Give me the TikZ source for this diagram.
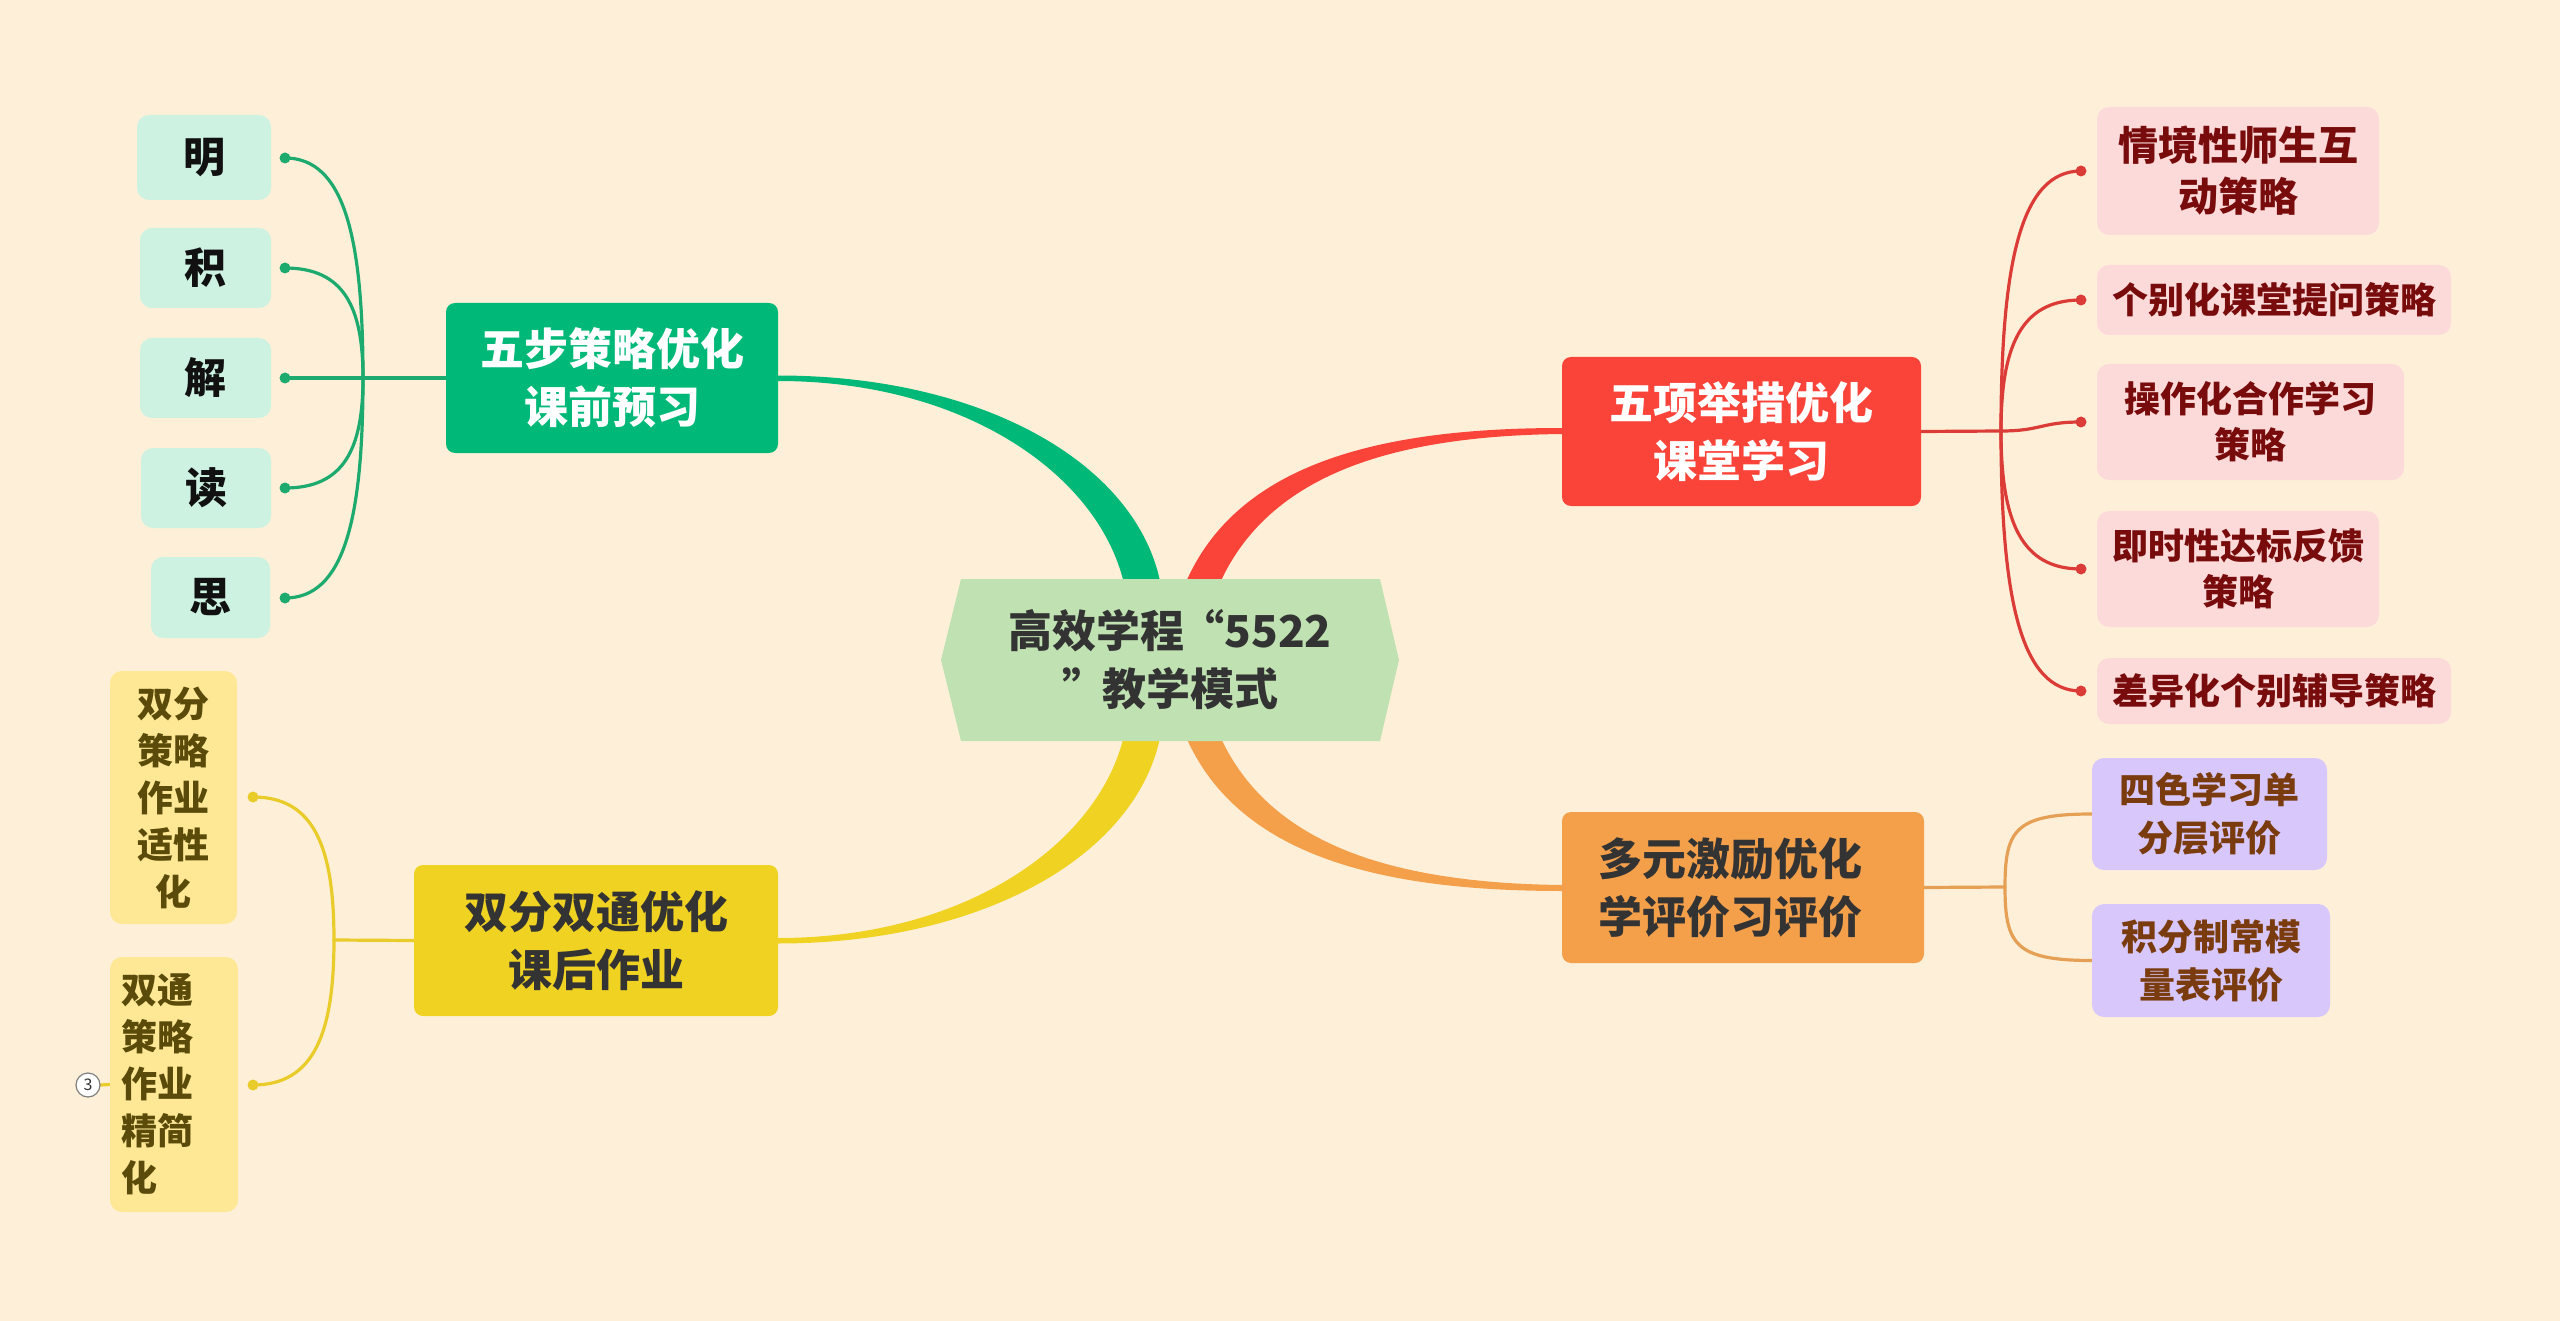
\documentclass[tikz,border=0pt]{standalone}
\usepackage{fontspec}
\setmainfont{Noto Sans CJK SC}
\pgfdeclarelayer{bgl}
\pgfdeclarelayer{conn}
\pgfdeclarelayer{hexl}
\pgfsetlayers{bgl,conn,hexl,main}
\definecolor{bgc}{HTML}{FEF0D8}
\definecolor{cfill}{HTML}{C0E2B2}
\definecolor{dark}{HTML}{333333}
\definecolor{gmain}{HTML}{00B877}
\definecolor{glinec}{HTML}{1DAA6E}
\definecolor{rmain}{HTML}{FA443A}
\definecolor{rlinec}{HTML}{DC3C37}
\definecolor{ymain}{HTML}{F0D223}
\definecolor{ylinec}{HTML}{E9CB2A}
\definecolor{omain}{HTML}{F4A04B}
\definecolor{olinec}{HTML}{E6A055}
\definecolor{gleaffill}{HTML}{CDF2E1}
\definecolor{gleaftext}{HTML}{111111}
\definecolor{rleaffill}{HTML}{FDDADA}
\definecolor{rleaftext}{HTML}{780C0C}
\definecolor{pleaffill}{HTML}{D8C7FA}
\definecolor{pleaftext}{HTML}{7A3C0F}
\definecolor{yleaffill}{HTML}{FEE896}
\definecolor{yleaftext}{HTML}{5A4B0A}
\begin{document}
\begin{tikzpicture}[x=1pt,y=-1pt,
  mainbox/.style={rectangle,rounded corners=9pt,inner sep=0pt,align=center,font=\bfseries\fontsize{44pt}{58pt}\selectfont},
  leafbox/.style={rectangle,rounded corners=12pt,inner sep=0pt,align=center},
  gleaf/.style={leafbox,fill=gleaffill,text=gleaftext,font=\bfseries\fontsize{42pt}{50pt}\selectfont},
  rleaf/.style={leafbox,fill=rleaffill,text=rleaftext,font=\bfseries\fontsize{36pt}{46pt}\selectfont},
  pleaf/.style={leafbox,fill=pleaffill,text=pleaftext,font=\bfseries\fontsize{36pt}{48pt}\selectfont},
  yleaf/.style={leafbox,fill=yleaffill,text=yleaftext,font=\bfseries\fontsize{36pt}{47pt}\selectfont},
  gline/.style={draw=glinec,line width=3.2pt,line cap=round},
  rline/.style={draw=rlinec,line width=3.2pt,line cap=round},
  yline/.style={draw=ylinec,line width=3.2pt,line cap=round},
  oline/.style={draw=olinec,line width=3.2pt,line cap=round},
  dotg/.style={fill=glinec},
  dotr/.style={fill=rlinec},
  doty/.style={fill=ylinec}]
\useasboundingbox (0,0) rectangle (2560,1321);
\begin{pgfonlayer}{bgl}
\fill[bgc] (0,0) rectangle (2560,1321);
\end{pgfonlayer}

% ---------- centre ----------
\begin{pgfonlayer}{hexl}
\fill[cfill] (941,660) -- (961,579) -- (1380,579) -- (1399,660) -- (1380,741) -- (961,741) -- cycle;
\end{pgfonlayer}
\node[font=\bfseries\fontsize{44pt}{58pt}\selectfont,text=dark,align=center,inner sep=0pt] (c) at (1170,660)
  {高效学程\makebox[40pt][r]{“}5522\\\makebox[40pt][l]{”}教学模式};

% ---------- main topics ----------
\node[mainbox,fill=gmain,text=white,minimum width=332pt,minimum height=150pt] (g) at (612,378) {五步策略优化\\课前预习};
\node[mainbox,fill=rmain,text=white,minimum width=359pt,minimum height=149pt] (r) at (1741.5,431.5) {五项举措优化\\课堂学习};
\node[mainbox,fill=ymain,text=dark,minimum width=364pt,minimum height=151pt] (yb) at (596,940.5) {双分双通优化\\课后作业};
\node[mainbox,fill=omain,text=dark,minimum width=362pt,minimum height=151pt,text width=290pt,align=left] (o) at (1743,887.5) {多元激励优化\\学评价习评价};

% ---------- green leaves ----------
\node[gleaf,minimum width=134pt,minimum height=85pt] (g1) at (204,157.5) {明};
\node[gleaf,minimum width=131pt,minimum height=80pt] (g2) at (205.5,268) {积};
\node[gleaf,minimum width=131pt,minimum height=80pt] (g3) at (205.5,378) {解};
\node[gleaf,minimum width=130pt,minimum height=80pt] (g4) at (206,488) {读};
\node[gleaf,minimum width=119pt,minimum height=81pt] (g5) at (210.5,597.5) {思};

% ---------- red leaves ----------
\node[rleaf,font=\bfseries\fontsize{40pt}{51pt}\selectfont,minimum width=282pt,minimum height=128pt] (r1) at (2238,171) {情境性师生互\\动策略};
\node[rleaf,minimum width=354pt,minimum height=70pt] (r2) at (2274,300) {个别化课堂提问策略};
\node[rleaf,minimum width=307pt,minimum height=116pt] (r3) at (2250.5,422) {操作化合作学习\\策略};
\node[rleaf,minimum width=282pt,minimum height=116pt] (r4) at (2238,569) {即时性达标反馈\\策略};
\node[rleaf,minimum width=354pt,minimum height=66pt] (r5) at (2274,691) {差异化个别辅导策略};

% ---------- yellow leaves ----------
\node[yleaf,minimum width=127pt,minimum height=253pt] (y1) at (173.5,797.5) {双分\\策略\\作业\\适性\\化};
\node[yleaf,minimum width=128pt,minimum height=255pt,text width=106pt,align=left] (y2) at (174,1084.5) {双通\\策略\\作业\\精简\\化};
\node[circle,draw=gray,line width=1.2pt,fill=white,minimum size=24pt,inner sep=0pt,text=dark,font=\fontsize{16pt}{16pt}\selectfont] (n3) at (88,1085) {3};

% ---------- purple leaves ----------
\node[pleaf,minimum width=235pt,minimum height=112pt] (p1) at (2209.5,814) {四色学习单\\分层评价};
\node[pleaf,minimum width=238pt,minimum height=113pt] (p2) at (2211,960.5) {积分制常模\\量表评价};

% ---------- junctions and dots ----------
\coordinate (gj) at (363,378);
\coordinate (gd1) at (285,158);
\coordinate (gd2) at (285,268);
\coordinate (gd3) at (285,378);
\coordinate (gd4) at (285,488);
\coordinate (gd5) at (285,598);
\coordinate (rj) at (2001,431);
\coordinate (rd1) at (2081,171);
\coordinate (rd2) at (2081,300);
\coordinate (rd3) at (2081,422);
\coordinate (rd4) at (2081,569);
\coordinate (rd5) at (2081,691);
\coordinate (yj) at (334,940);
\coordinate (yd1) at (253,797);
\coordinate (yd2) at (253,1085);
\coordinate (oj) at (2005,887);

\begin{pgfonlayer}{conn}
% tapered main branches
\fill[gmain] (778,375.5) .. controls (990,375.5) and (1150,470) .. (1163,600) -- (1127,600) .. controls (1112,485) and (975,381) .. (778,381) -- cycle;
\fill[ymain] (778,943.5) .. controls (990,943.5) and (1150,849) .. (1163,719) -- (1127,719) .. controls (1112,834) and (975,938) .. (778,938) -- cycle;
\fill[rmain] (1179,600) .. controls (1225,465) and (1375,428) .. (1562,428) -- (1562,434) .. controls (1385,436) and (1257,478) .. (1213,600) -- cycle;
\fill[omain] (1179,719) .. controls (1225,854) and (1375,891) .. (1562,891) -- (1562,885) .. controls (1385,883) and (1257,841) .. (1213,719) -- cycle;

% green sub-branches
\draw[gline] (g.west) -- (gd3);
\draw[gline] (gj) .. controls (363,235) and (343.5,158) .. (gd1);
\draw[gline] (gj) .. controls (363,306.5) and (343.5,268) .. (gd2);
\draw[gline] (gj) .. controls (363,449.5) and (343.5,488) .. (gd4);
\draw[gline] (gj) .. controls (363,521) and (343.5,598) .. (gd5);
\foreach \d in {gd1,gd2,gd3,gd4,gd5} \fill[dotg] (\d) circle (5.5);

% red sub-branches
\draw[rline] (r.east) -- (rj);
\draw[rline] (rj) .. controls (2001,262) and (2021,171) .. (rd1);
\draw[rline] (rj) .. controls (2001,346) and (2021,300) .. (rd2);
\draw[rline] (rj) .. controls (2041,431) and (2041,422) .. (rd3);
\draw[rline] (rj) .. controls (2001,521) and (2021,569) .. (rd4);
\draw[rline] (rj) .. controls (2001,600) and (2021,691) .. (rd5);
\foreach \d in {rd1,rd2,rd3,rd4,rd5} \fill[dotr] (\d) circle (5.5);

% yellow sub-branches
\draw[yline] (yb.west) -- (yj);
\draw[yline] (yj) .. controls (334,847) and (314,797) .. (yd1);
\draw[yline] (yj) .. controls (334,1033) and (314,1085) .. (yd2);
\foreach \d in {yd1,yd2} \fill[doty] (\d) circle (5.5);
\draw[yline] (n3.east) -- (y2.west);

% orange sub-branches
\draw[oline] (o.east) -- (oj);
\draw[oline] (oj) .. controls (2005,830) and (2015,814) .. (p1.west);
\draw[oline] (oj) .. controls (2005,944) and (2015,960.5) .. (p2.west);
\end{pgfonlayer}
\end{tikzpicture}
\end{document}
